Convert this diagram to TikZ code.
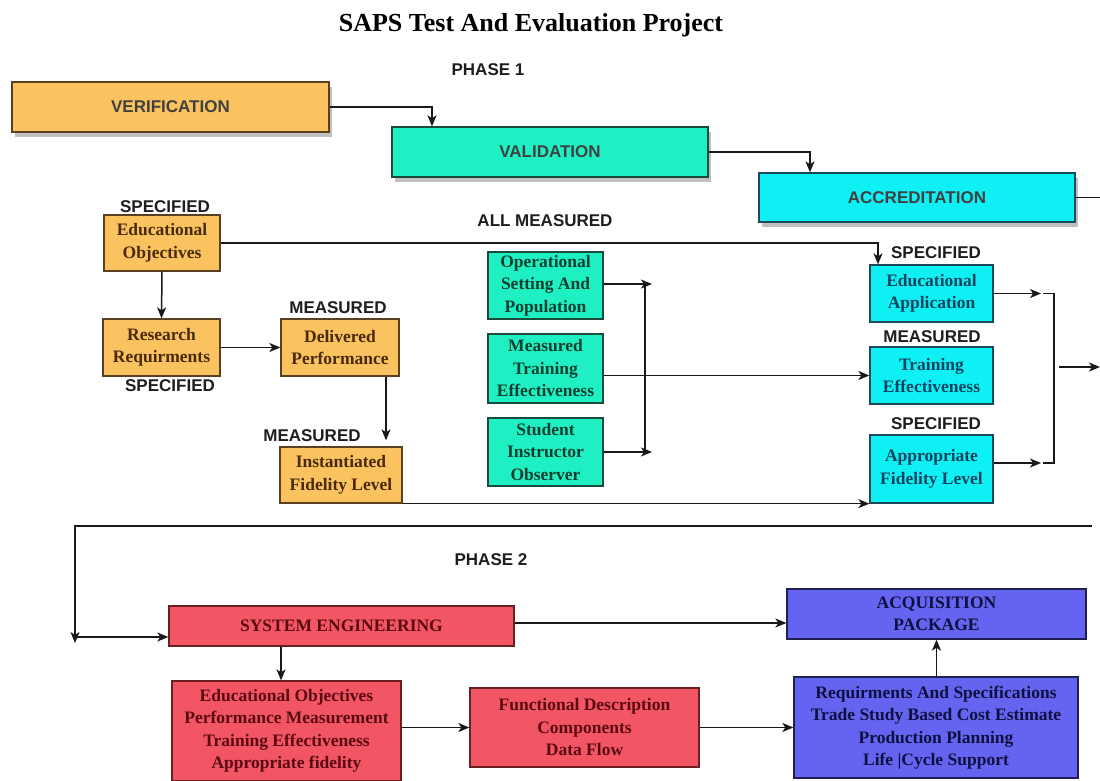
\documentclass[tikz,border=0pt]{standalone}
\usepackage{fontspec}
\setmainfont{Liberation Serif}
\setsansfont{Liberation Sans}
\usepackage{tikz}
\usetikzlibrary{arrows.meta,shadows}
\definecolor{orangebox}{RGB}{250,195,95}
\definecolor{aquabox}{RGB}{30,240,195}
\definecolor{cyanbox}{RGB}{15,240,245}
\definecolor{redbox}{RGB}{242,85,100}
\definecolor{bluebox}{RGB}{100,100,240}
\definecolor{oline}{RGB}{90,64,32}
\definecolor{gline}{RGB}{26,74,58}
\definecolor{cline}{RGB}{26,74,90}
\definecolor{rline}{RGB}{106,32,32}
\definecolor{bline}{RGB}{32,32,80}
\definecolor{otext}{RGB}{74,42,10}
\definecolor{gtext}{RGB}{15,63,47}
\definecolor{ctext}{RGB}{10,69,96}
\definecolor{rtext}{RGB}{90,10,16}
\definecolor{btext}{RGB}{16,16,64}
\definecolor{labtext}{RGB}{30,30,30}
\definecolor{linecol}{RGB}{25,25,25}
\newcommand{\boxfont}{\fontsize{17.5}{22.5}\selectfont\bfseries}
\newcommand{\labfont}{\fontsize{17}{20}\selectfont\sffamily\bfseries}
\tikzstyle{box}=[rectangle, draw, line width=1.3pt, align=center, inner sep=0pt, font=\boxfont]
\tikzstyle{obox}=[box, draw=oline, fill=orangebox, text=otext]
\tikzstyle{gbox}=[box, draw=gline, fill=aquabox, text=gtext]
\tikzstyle{cbox}=[box, draw=cline, fill=cyanbox, text=ctext]
\tikzstyle{rbox}=[box, draw=rline, fill=redbox, text=rtext]
\tikzstyle{bbox}=[box, draw=bline, fill=bluebox, text=btext]
\tikzstyle{phase}=[font=\labfont, text=labtext!85, drop shadow={shadow xshift=3pt, shadow yshift=-5pt, opacity=0.35, fill=black!70}]
\tikzstyle{lab}=[font=\labfont, text=labtext, inner sep=0pt]
\tikzstyle{ln}=[line width=1.5pt, draw=linecol]
\tikzstyle{arr}=[ln, -{Stealth[length=11pt,width=9pt,inset=3pt]}]

\begin{document}
\begin{tikzpicture}[x=1pt,y=-1pt]
        \useasboundingbox[fill=white] (0,0) rectangle (1100,781);
        % title
        \node[font=\fontsize{26}{30}\selectfont\bfseries] (title) at (531,25) {SAPS Test And Evaluation Project};
        \node[lab] (phase1) at (488,70) {PHASE 1};

        % phase 1 steps
        \node[obox, phase, minimum width=317pt, minimum height=50pt] (verif) at (170.5,107) {VERIFICATION};
        \node[gbox, phase, minimum width=316pt, minimum height=50pt] (valid) at (550,152) {VALIDATION};
        \node[cbox, phase, minimum width=316pt, minimum height=49pt] (accred) at (917,197.5) {ACCREDITATION};
        \coordinate (accredout) at (1100,197.5);
        \draw[arr] (verif.east) -| ([xshift=-118pt]valid.north);
        \draw[arr] (valid.east) -| ([xshift=-107pt]accred.north);
        \draw[ln] (accred.east) -- (accredout);

        % left column
        \node[obox, minimum width=116pt, minimum height=56pt] (eduobj) at (162,243) {Educational\\Objectives};
        \node[lab] (spec1) at (165,207) {SPECIFIED};
        \node[obox, minimum width=117pt, minimum height=57pt] (research) at (161.5,347.5) {Research\\Requirments};
        \node[lab] (spec2) at (170,386) {SPECIFIED};
        \node[obox, minimum width=118pt, minimum height=57pt] (delivered) at (340,347.5) {Delivered\\Performance};
        \node[lab] (meas1) at (338,308) {MEASURED};
        \node[obox, minimum width=122pt, minimum height=56pt] (instfid) at (341,475) {Instantiated\\Fidelity Level};
        \node[lab] (meas2) at (312,436) {MEASURED};
        \draw[arr] (eduobj.south) -- (research.north);
        \draw[arr] (research.east) -- (delivered.west);
        \draw[arr] ([xshift=46pt]delivered.south) -- ([xshift=45pt,yshift=6pt]instfid.north);

        % middle column
        \node[lab] (allmeas) at (545,221) {ALL MEASURED};
        \node[gbox, minimum width=115pt, minimum height=67pt] (oper) at (545.5,285.5) {Operational\\Setting And\\Population};
        \node[gbox, minimum width=115pt, minimum height=69pt] (meastrain) at (545.5,368.5) {Measured\\Training\\Effectiveness};
        \node[gbox, minimum width=115pt, minimum height=68pt] (student) at (545.5,452) {Student\\Instructor\\Observer};
        \coordinate (jtop) at (652,284);
        \coordinate (jbot) at (652,452);
        \coordinate (bartop) at (645,284);
        \coordinate (barbot) at (645,452);
        \draw[arr] (oper.east |- jtop) -- (jtop);
        \draw[arr] (student.east) -- (jbot);
        \draw[ln] (bartop) -- (barbot);

        % right column
        \node[cbox, minimum width=123pt, minimum height=57pt] (eduapp) at (931.5,293.5) {Educational\\Application};
        \node[lab] (spec3) at (936,253) {SPECIFIED};
        \node[cbox, minimum width=123pt, minimum height=57pt] (traineff) at (931.5,375.5) {Training\\Effectiveness};
        \node[lab] (meas3) at (932,337) {MEASURED};
        \node[cbox, minimum width=123pt, minimum height=68pt] (appfid) at (931.5,469) {Appropriate\\Fidelity Level};
        \node[lab] (spec4) at (936,424) {SPECIFIED};
        \draw[arr] (eduobj.east) -| ([xshift=-53.5pt]eduapp.north);
        \draw[arr] (meastrain.east |- traineff.west) -- (traineff.west);
        \draw[arr] (instfid.south east) -- (instfid.south east -| appfid.west);

        % merge bracket
        \coordinate (mtop) at (1041,293.5);
        \coordinate (mbot) at (1041,463);
        \coordinate (mout) at (1059,367);
        \coordinate (mend) at (1100,367);
        \draw[arr] (eduapp.east) -- (mtop);
        \draw[arr] (appfid.east |- mbot) -- (mbot);
        \draw[ln] (1043,293.5) -- (1054,293.5) -- (1054,463) -- (1043,463);
        \draw[arr] (mout) -- (mend);

        % loop back to phase 2
        \coordinate (loopR) at (1092,526);
        \coordinate (loopL) at (75,526);
        \coordinate (loopD) at (75,643);
        \coordinate (loopM) at (75,637);
        \draw[arr] (loopR) -- (loopL) -- (loopD);

        % phase 2
        \node[lab] (phase2) at (491,560) {PHASE 2};
        \node[rbox, minimum width=345pt, minimum height=40pt] (syseng) at (341.5,626) {SYSTEM ENGINEERING};
        \node[bbox, minimum width=299pt, minimum height=50pt] (acq) at (936.5,614) {ACQUISITION\\PACKAGE};
        \node[rbox, minimum width=229pt, minimum height=100pt] (eobox) at (286.5,731) {Educational Objectives\\Performance Measurement\\Training Effectiveness\\Appropriate fidelity};
        \node[rbox, minimum width=229pt, minimum height=79pt] (func) at (584.5,727.5) {Functional Description\\Components\\Data Flow};
        \node[bbox, minimum width=284pt, minimum height=101pt] (req) at (936,727.5) {Requirments And Specifications\\Trade Study Based Cost Estimate\\Production Planning\\Life |Cycle Support};
        \draw[arr] (loopM) -- (loopM -| syseng.west);
        \draw[arr] (syseng.east |- 0,623) -- (acq.west |- 0,623);
        \draw[arr] ([xshift=-60.5pt]syseng.south) -- ([xshift=-60.5pt]syseng.south |- eobox.north);
        \draw[arr] (eobox.east |- func.west) -- (func.west);
        \draw[arr] (func.east) -- (req.west);
        \draw[arr] (req.north -| acq.south) -- (acq.south);
\end{tikzpicture}
\end{document}
